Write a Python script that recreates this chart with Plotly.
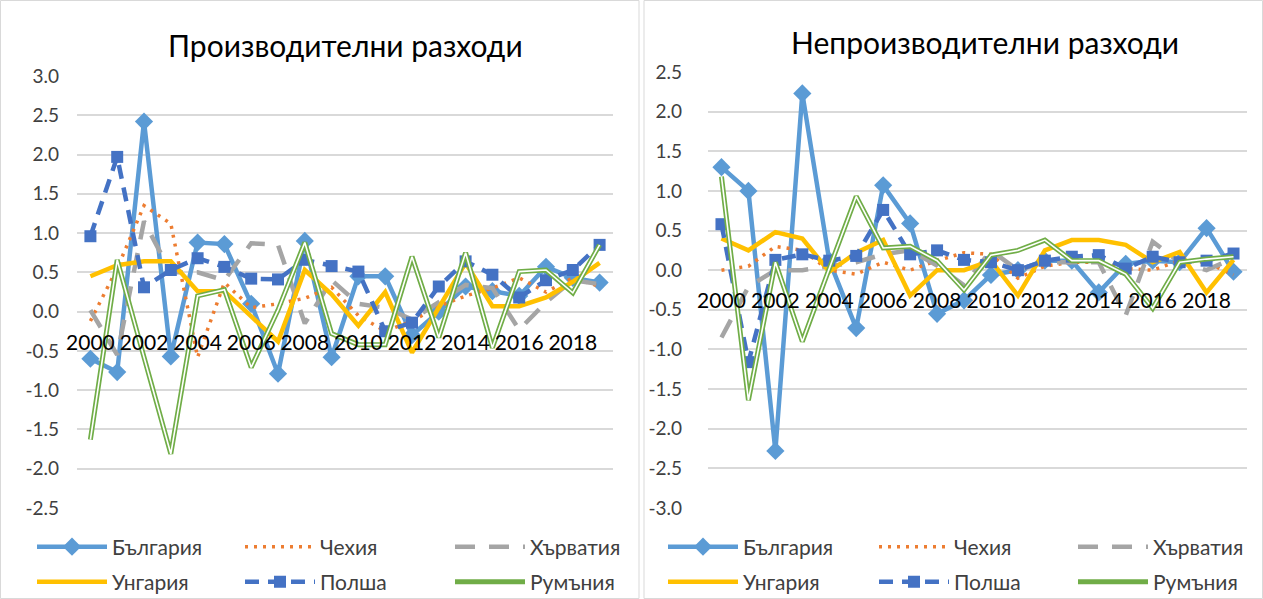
import plotly.graph_objects as go

years = list(range(2000, 2020))
tick_years = list(range(2000, 2019, 2))

names = ["България", "Чехия", "Хърватия", "Унгария", "Полша", "Румъния"]

# Производителни разходи
bg_p = [-0.60, -0.77, 2.42, -0.57, 0.88, 0.86, 0.10, -0.79, 0.90, -0.58, 0.45, 0.45, -0.30, 0.00, 0.32, 0.26, 0.20, 0.57, 0.43, 0.37]
cz_p = [-0.12, 0.55, 1.35, 1.12, -0.58, 0.37, 0.05, 0.10, 0.17, 0.31, -0.05, -0.25, -0.12, 0.07, 0.20, 0.30, 0.43, 0.25, 0.43, 0.32]
hr_p = [0.02, -0.55, 1.15, 0.50, 0.50, 0.40, 0.87, 0.85, -0.15, 0.40, 0.10, 0.05, -0.10, 0.12, 0.34, 0.30, -0.23, 0.12, 0.40, 0.35]
hu_p = [0.45, 0.59, 0.64, 0.64, 0.26, 0.26, -0.06, -0.38, 0.53, 0.22, -0.18, 0.25, -0.52, 0.05, 0.62, 0.07, 0.07, 0.18, 0.38, 0.62]
pl_p = [0.96, 1.97, 0.31, 0.53, 0.68, 0.57, 0.42, 0.41, 0.66, 0.58, 0.51, -0.25, -0.14, 0.32, 0.64, 0.47, 0.18, 0.40, 0.53, 0.85]
ro_p = [-1.63, 0.66, -0.58, -1.81, 0.20, 0.28, -0.71, 0.02, 0.88, -0.28, -0.42, -0.42, 0.70, -0.33, 0.75, -0.46, 0.51, 0.53, 0.24, 0.85]

# Непроизводителни разходи
bg_n = [1.30, 1.00, -2.28, 2.23, 0.12, -0.73, 1.07, 0.59, -0.55, -0.38, -0.06, 0.00, 0.12, 0.12, -0.28, 0.08, 0.12, 0.10, 0.53, -0.02]
cz_n = [0.00, 0.05, 0.30, 0.25, 0.00, -0.05, 0.10, 0.00, 0.12, 0.22, 0.20, -0.10, 0.05, 0.10, 0.10, 0.02, 0.00, 0.12, 0.10, -0.06]
hr_n = [-0.85, -0.21, 0.00, 0.00, 0.05, 0.10, 0.20, 0.25, 0.06, -0.19, 0.25, 0.00, 0.10, 0.10, 0.10, -0.57, 0.36, 0.10, 0.00, 0.15]
hu_n = [0.40, 0.25, 0.48, 0.40, -0.02, 0.22, 0.38, -0.32, 0.00, 0.00, 0.12, -0.32, 0.25, 0.38, 0.38, 0.32, 0.10, 0.23, -0.28, 0.13]
pl_n = [0.58, -1.16, 0.13, 0.20, 0.12, 0.18, 0.76, 0.20, 0.25, 0.13, 0.10, 0.00, 0.12, 0.17, 0.19, 0.02, 0.17, 0.10, 0.12, 0.21]
ro_n = [1.18, -1.64, 0.10, -0.90, 0.02, 0.93, 0.28, 0.30, 0.12, -0.25, 0.19, 0.25, 0.38, 0.12, 0.12, -0.05, -0.48, 0.10, 0.14, 0.17]

titles = ["Производителни разходи", "Непроизводителни разходи"]

yticks_left = [-2.5, -2.0, -1.5, -1.0, -0.5, 0.0, 0.5, 1.0, 1.5, 2.0, 2.5, 3.0]
ytick_text_left = ["-2.5", "-2.0", "-1.5", "-1.0", "-0.5", "0.0", "0.5", "1.0", "1.5", "2.0", "2.5", "3.0"]
yticks_right = [-3.0, -2.5, -2.0, -1.5, -1.0, -0.5, 0.0, 0.5, 1.0, 1.5, 2.0, 2.5]
ytick_text_right = ["-3.0", "-2.5", "-2.0", "-1.5", "-1.0", "-0.5", "0.0", "0.5", "1.0", "1.5", "2.0", "2.5"]

FONT = "Lato, 'Open Sans', sans-serif"
W, H = 1263, 599

styles = [
    dict(line=dict(color="#5B9BD5", width=4.5), mode="lines+markers",
         marker=dict(symbol="diamond", size=14, color="#5B9BD5")),
    dict(line=dict(color="#ED7D31", width=3.5, dash="3px,6px"), mode="lines"),
    dict(line=dict(color="#A5A5A5", width=4.5, dash="20px,14px"), mode="lines"),
    dict(line=dict(color="#FFC000", width=4.5), mode="lines"),
    dict(line=dict(color="#4472C4", width=4.5, dash="14px,9px"), mode="lines+markers",
         marker=dict(symbol="square", size=12, color="#4472C4")),
    dict(line=dict(color="#70AD47", width=5), mode="lines"),
]

# legend symbol start positions (px) per panel, per item
leg_x = [[37, 245, 455, 37, 245, 455], [668, 879, 1078, 668, 879, 1078]]
leg_y = [547, 547, 547, 582, 582, 582]

fig = go.Figure()

panels = [
    ([bg_p, cz_p, hr_p, hu_p, pl_p, ro_p], "x", "y"),
    ([bg_n, cz_n, hr_n, hu_n, pl_n, ro_n], "x2", "y2"),
]

leg_layout = {}
for p, (series, xa, ya) in enumerate(panels):
    for i, (nm, vals) in enumerate(zip(names, series)):
        k = p * 6 + i + 1
        lname = "legend" if k == 1 else f"legend{k}"
        fig.add_trace(go.Scatter(x=years, y=vals, name=nm, xaxis=xa, yaxis=ya,
                                 legend=lname, **styles[i]))
        if nm == "Румъния":
            fig.add_trace(go.Scatter(x=years, y=vals, xaxis=xa, yaxis=ya, mode="lines",
                                     line=dict(color="white", width=1.6),
                                     showlegend=False, hoverinfo="skip"))
        leg_layout[lname] = dict(
            x=(leg_x[p][i] - 5) / W, y=1 - leg_y[i] / H, xanchor="left", yanchor="middle",
            orientation="h", itemwidth=70, bgcolor="rgba(0,0,0,0)", borderwidth=0,
            font=dict(family=FONT, size=21, color="#404040"), itemclick=False)

grid = "#d9d9d9"
common_x = dict(range=[1999.5, 2019.5], tickvals=tick_years, showgrid=False, zeroline=False,
                showline=False, ticks="", anchor="free",
                tickfont=dict(family=FONT, size=21, color="#000000"), ticklabelstandoff=16)
common_y = dict(showgrid=True, gridcolor=grid, gridwidth=1.5,
                zeroline=False, showline=False, ticks="",
                tickfont=dict(family=FONT, size=19, color="#404040"))

fig.update_layout(
    width=W, height=H,
    margin=dict(l=0, r=0, t=0, b=0, autoexpand=False),
    paper_bgcolor="white", plot_bgcolor="white",
    font=dict(family=FONT, color="#404040"),
    xaxis=dict(domain=[77 / W, 613 / W], position=1 - 312 / H, **common_x),
    yaxis=dict(domain=[1 - 508 / H, 1 - 76 / H], range=[-2.5, 3.0], anchor="x",
               tickvals=yticks_left, ticktext=ytick_text_left, ticklabelstandoff=17, **common_y),
    xaxis2=dict(domain=[708 / W, 1247 / W], position=1 - 270 / H, **common_x),
    yaxis2=dict(domain=[1 - 508 / H, 1 - 72 / H], range=[-3.0, 2.5], anchor="x2",
                tickvals=yticks_right, ticktext=ytick_text_right, ticklabelstandoff=25, **common_y),
    showlegend=True,
    **leg_layout,
)

fig.add_annotation(text=titles[0], x=345 / W, y=1 - 45 / H, xref="paper", yref="paper",
                   showarrow=False, xanchor="center", yanchor="middle",
                   font=dict(family=FONT, size=30, color="#000000"))
fig.add_annotation(text=titles[1], x=985 / W, y=1 - 42 / H, xref="paper", yref="paper",
                   showarrow=False, xanchor="center", yanchor="middle",
                   font=dict(family=FONT, size=30, color="#000000"))

fig.add_shape(type="rect", xref="paper", yref="paper", x0=0.5 / W, x1=639 / W, y0=0.5 / H, y1=1 - 0.5 / H,
              line=dict(color="#d9d9d9", width=1))
fig.add_shape(type="rect", xref="paper", yref="paper", x0=644 / W, x1=1 - 0.5 / W, y0=0.5 / H, y1=1 - 0.5 / H,
              line=dict(color="#d9d9d9", width=1))

fig.write_html("out.html", config={"displayModeBar": False},
               post_script="document.body.style.margin='0';")
